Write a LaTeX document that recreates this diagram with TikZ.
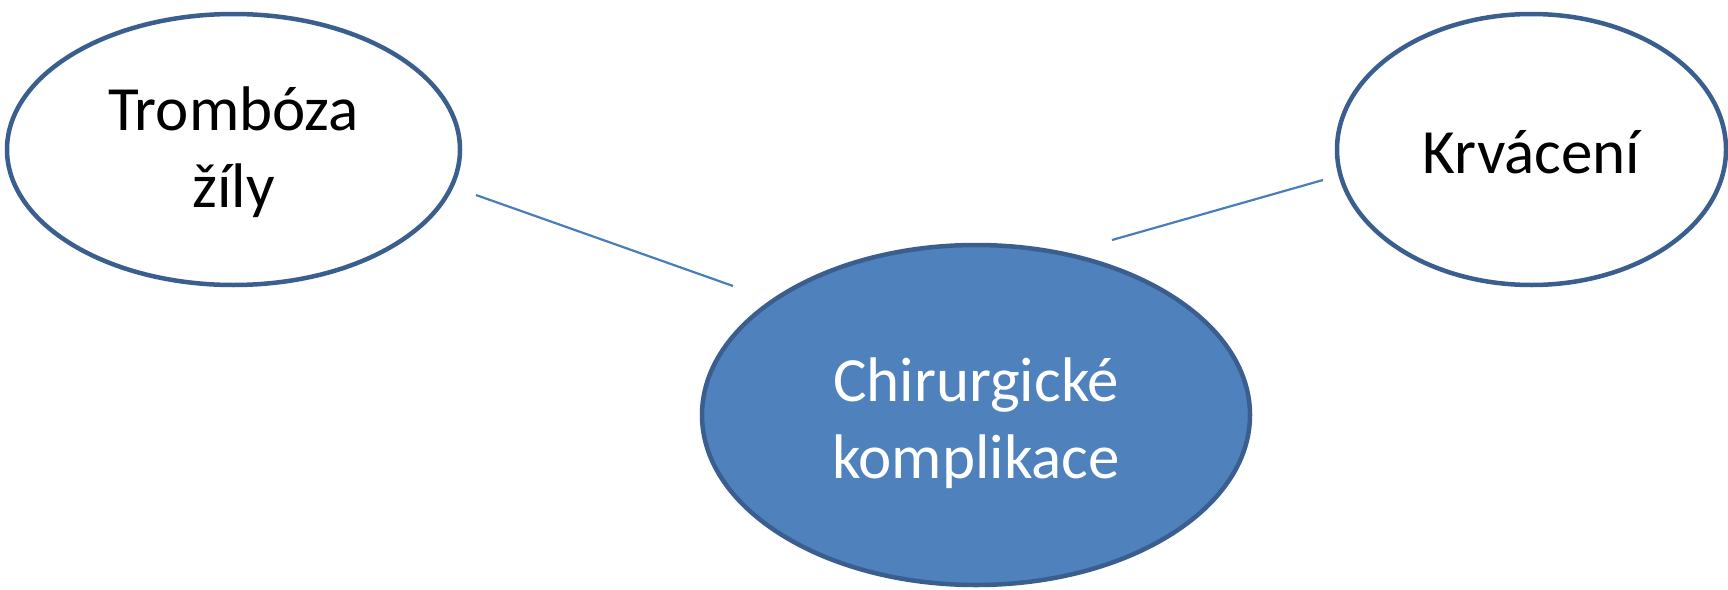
\documentclass[tikz,border=0pt]{standalone}
\usepackage{fontspec}
\setmainfont{Carlito}
\usetikzlibrary{shapes.geometric}
\definecolor{rimblue}{HTML}{3A5F8F}
\definecolor{fillblue}{HTML}{4F81BD}
\definecolor{linkblue}{HTML}{4A7EBB}
\tikzset{
  bubble/.style={ellipse, draw=rimblue, line width=4.5pt, inner sep=0pt},
  plain/.style={bubble, fill=white},
  core/.style={bubble, fill=fillblue},
  caption/.style={align=center, inner sep=0pt, font=\fontsize{63}{77}\selectfont},
  link/.style={draw=linkblue, line width=2.2pt}
}
\begin{document}
\begin{tikzpicture}[x=1pt, y=-1pt]
  \useasboundingbox (0,0) rectangle (1728,589);
  % the three bubbles
  \node[plain, minimum width=453pt, minimum height=271pt] (throm) at (233.5,149.5) {};
  \node[plain, minimum width=389pt, minimum height=271pt] (bleed) at (1531.5,149.5) {};
  \node[core, minimum width=548pt, minimum height=340pt] (surg) at (976,415) {};
  % their captions
  \node[caption, text=black, yshift=-3pt] (throm-text) at (throm.center) {Trombóza\\žíly};
  \node[caption, text=black, yshift=-3pt] (bleed-text) at (bleed.center) {Krvácení};
  \node[caption, text=white, yshift=-8pt] (surg-text) at (surg.center) {Chirurgické\\komplikace};
  % connector end points, kept clear of the ellipse rims
  \coordinate (throm-out) at (476,195);
  \coordinate (surg-inl) at (733,286);
  \coordinate (surg-inr) at (1112,240);
  \coordinate (bleed-in) at (1323,180);
  \draw[link] (throm-out) -- (surg-inl);
  \draw[link] (surg-inr) -- (bleed-in);
\end{tikzpicture}
\end{document}
